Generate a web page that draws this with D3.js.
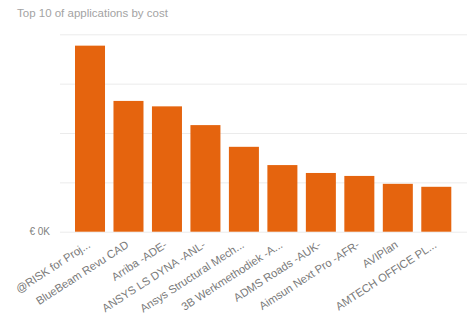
<!DOCTYPE html>
<html>
<head>
<meta charset="utf-8">
<script src="https://cdn.jsdelivr.net/npm/d3@7"></script>
<style>
html,body{margin:0;padding:0;background:#fff;}
svg{display:block;}
</style>
</head>
<body>
<svg id="chart" width="471" height="320"></svg>
<script>
const title = "Top 10 of applications by cost";
const categories = ["@RISK for Proj...", "BlueBeam Revu CAD", "Arriba -ADE-", "ANSYS LS DYNA -ANL-", "Ansys Structural Mech...", "3B Werkmethodiek -A...", "ADMS Roads -AUK-", "Aimsun Next Pro -AFR-", "AVIPlan", "AMTECH OFFICE PL..."];
const values = [3.77, 2.65, 2.54, 2.16, 1.72, 1.35, 1.19, 1.13, 0.97, 0.91];
const yTicks = [0, 1, 2, 3, 4];
const yTickLabels = ["€ 0K", "", "", "", ""];

const svg = d3.select("#chart");
const x = d3.scaleBand().domain(categories).range([75, 451.3]).paddingInner(0.22).paddingOuter(0);
const y = d3.scaleLinear().domain([0, 4]).range([231.7, 34.3]);

svg.append("text").attr("x", 17).attr("y", 17)
  .attr("font-family", "Liberation Sans, Arial, sans-serif").attr("font-size", "11.5px")
  .attr("fill", "#a3a3a3").text(title);

// gridlines
const grid = svg.append("g").attr("transform", "translate(60,0)")
  .call(d3.axisLeft(y).tickValues(yTicks).tickSize(-407).tickFormat(""));
grid.select(".domain").remove();
grid.selectAll(".tick line").attr("stroke", "#ebebeb").attr("stroke-width", 1);

// y labels
const yAxis = svg.append("g").attr("transform", "translate(50,0)")
  .call(d3.axisLeft(y).tickValues(yTicks).tickSize(0).tickPadding(0).tickFormat((d, i) => yTickLabels[i]));
yAxis.select(".domain").remove();
yAxis.selectAll("text").attr("font-family", "Liberation Sans, Arial, sans-serif").attr("font-size", "10px").attr("fill", "#808080");

// bars
svg.append("g").selectAll("rect").data(values).join("rect")
  .attr("x", (d, i) => x(categories[i]))
  .attr("y", d => y(d))
  .attr("width", x.bandwidth())
  .attr("height", d => y(0) - y(d))
  .attr("fill", "#E5640E");

// x labels
const xAxis = svg.append("g").attr("transform", "translate(0,231.7)")
  .call(d3.axisBottom(x).tickSize(0).tickPadding(0));
xAxis.select(".domain").remove();
xAxis.selectAll("text")
  .attr("font-family", "Liberation Sans, Arial, sans-serif").attr("font-size", "11.2px").attr("fill", "#7a7a7a")
  .attr("text-anchor", "end")
  .attr("dy", "0")
  .attr("transform", "translate(1,15) rotate(-33)");
</script>
</body>
</html>
